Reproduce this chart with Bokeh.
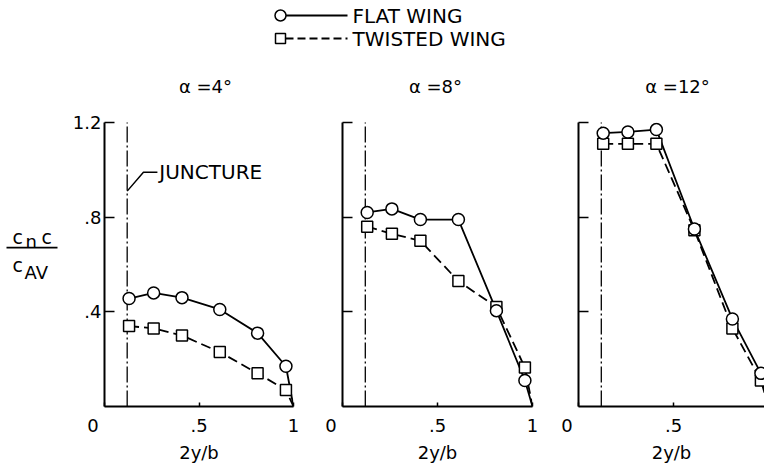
from bokeh.plotting import figure
from bokeh.layouts import row, column
from bokeh.models import FixedTicker, CustomJSTickFormatter, Range1d
from bokeh.embed import file_html
from bokeh.resources import INLINE
from bokeh.core.properties import value

FONT = "DejaVu Sans"

# ---------------- data ----------------
eta = [0.13, 0.26, 0.41, 0.61, 0.81, 0.96]      # 2y/b stations
tip_eta = 1.0
tip_load = 0.0
juncture_eta = 0.12

titles = ["\u03b1 =4\u00b0", "\u03b1 =8\u00b0", "\u03b1 =12\u00b0"]

flat_4 = [0.456, 0.48, 0.46, 0.41, 0.31, 0.17]
twisted_4 = [0.34, 0.33, 0.30, 0.23, 0.14, 0.07]

flat_8 = [0.82, 0.835, 0.79, 0.79, 0.405, 0.11]
twisted_8 = [0.76, 0.73, 0.70, 0.53, 0.42, 0.165]

flat_12 = [1.155, 1.16, 1.17, 0.75, 0.37, 0.14]
twisted_12 = [1.11, 1.11, 1.11, 0.745, 0.33, 0.11]

x_ticks = [0.0, 0.5, 1.0]
y_ticks = [0.4, 0.8, 1.2]

legend_labels = ["FLAT WING", "TWISTED WING"]

# the shared origin "0" sits down-left of the corner: pad it with no-break spaces
x_fmt_code = """
if (Math.abs(tick) < 1e-9) { return '0\\u00a0\\u00a0\\u00a0\\u00a0'; }
var s = (Math.round(tick*10)/10).toString();
return s.replace(/^0\\./, '.');
"""
y_fmt_code = """
var s = (Math.round(tick*10)/10).toString();
return s.replace(/^0\\./, '.');
"""

# ---------------- header (legend + panel titles) ----------------
hdr = figure(width=764, height=104, x_range=Range1d(0, 764), y_range=Range1d(0, 104),
             x_axis_type=None, y_axis_type=None, output_backend="svg",
             toolbar_location=None, min_border=0, title=None)
hdr.grid.visible = False
hdr.outline_line_color = None

hdr.line([285, 347], [89, 89], line_color="black", line_width=1.8)
hdr.scatter([280], [89], marker="circle", size=11, fill_color="white",
            line_color="black", line_width=1.5)
hdr.line([285, 347], [66, 66], line_color="black", line_width=1.8, line_dash="8 4")
hdr.scatter([280], [66], marker="square", size=10, fill_color="white",
            line_color="black", line_width=1.5)
hdr.text([352, 352], [89, 66], text=legend_labels, text_font=value(FONT),
         text_font_size="20px", text_baseline="middle", text_align="left",
         text_color="black")
hdr.text([205, 435, 677], [18, 18, 18], text=titles, text_font=value(FONT),
         text_font_size="18px", text_baseline="middle", text_align="center",
         text_color="black")

# ---------------- y label (fraction) ----------------
lab = figure(width=66, height=361, x_range=Range1d(0, 66), y_range=Range1d(0, 361),
             x_axis_type=None, y_axis_type=None, output_backend="svg",
             toolbar_location=None, min_border=0, title=None)
lab.grid.visible = False
lab.outline_line_color = None
lab.line([6, 57], [202, 202], line_color="black", line_width=1.8)
lab.text([12, 41, 12], [215, 215, 180], text=["c", "c", "c"], text_font=value(FONT),
         text_font_size="19px", text_baseline="alphabetic", text_align="left",
         text_color="black")
lab.text([25, 24], [210, 170], text=["n", "AV"], text_font=value(FONT),
         text_font_size="18px", text_baseline="alphabetic", text_align="left",
         text_color="black")


# ---------------- panels ----------------
def panel(flat, twisted, width, left, right, xend, show_ylabels, xticks):
    p = figure(width=width, height=361, x_range=Range1d(0, xend), y_range=Range1d(0, 1.2),
               output_backend="svg", toolbar_location=None, title=None,
               min_border_left=left, min_border_right=right,
               min_border_top=18, min_border_bottom=59)
    p.grid.visible = False
    p.outline_line_color = None
    p.background_fill_color = "white"

    xa = p.xaxis[0]
    xa.ticker = FixedTicker(ticks=xticks)
    xa.formatter = CustomJSTickFormatter(code=x_fmt_code)
    xa.minor_tick_line_color = None
    xa.major_tick_in = 4
    xa.major_tick_out = 0
    xa.axis_line_width = 2
    xa.axis_line_color = "black"
    xa.major_tick_line_width = 1.5
    xa.major_tick_line_color = "black"
    xa.major_label_text_font = FONT
    xa.major_label_text_font_size = "18px"
    xa.major_label_text_color = "black"
    xa.major_label_standoff = 8
    xa.axis_label = "2y/b"
    xa.axis_label_text_font = FONT
    xa.axis_label_text_font_size = "18px"
    xa.axis_label_text_font_style = "normal"
    xa.axis_label_text_color = "black"
    xa.axis_label_standoff = 3

    ya = p.yaxis[0]
    ya.ticker = FixedTicker(ticks=y_ticks)
    if show_ylabels:
        ya.formatter = CustomJSTickFormatter(code=y_fmt_code)
    else:
        ya.formatter = CustomJSTickFormatter(code="return '';")
    ya.minor_tick_line_color = None
    ya.major_tick_in = 10
    ya.major_tick_out = 0
    ya.axis_line_width = 2
    ya.axis_line_color = "black"
    ya.major_tick_line_width = 1.5
    ya.major_tick_line_color = "black"
    ya.major_label_text_font = FONT
    ya.major_label_text_color = "black"
    ya.major_label_standoff = 3
    ya.major_label_text_font_size = "18px"

    # juncture
    p.line([juncture_eta, juncture_eta], [0, 1.21], line_color="black",
           line_width=1.3, line_dash="16 3 2 3")

    xs = eta + [tip_eta]
    p.line(xs, flat + [tip_load], line_color="black", line_width=1.8)
    p.line(xs, twisted + [tip_load], line_color="black", line_width=1.8, line_dash="10 5")
    p.scatter(eta, twisted, marker="square", size=11, fill_color="white",
              line_color="black", line_width=1.5)
    p.scatter(eta, flat, marker="circle", size=12, fill_color="white",
              line_color="black", line_width=1.5)
    return p


p1 = panel(flat_4, twisted_4, 247, 38, 20, 1.0, True, x_ticks)
p2 = panel(flat_8, twisted_8, 239, 29, 20, 1.0, False, x_ticks)
p3 = panel(flat_12, twisted_12, 212, 26, 0, 186 / 190, False, x_ticks[:2])

# juncture call-out on first panel
p1.line([juncture_eta, 0.206, 0.28], [0.91, 0.99, 0.99], line_color="black", line_width=1.5)
p1.text([0.29], [0.99], text=["JUNCTURE"], text_font=value(FONT), text_font_size="20px",
        text_baseline="middle", text_align="left", text_color="black")

layout = column(hdr, row(lab, p1, p2, p3))

open("out.html", "w").write(file_html(layout, INLINE))
